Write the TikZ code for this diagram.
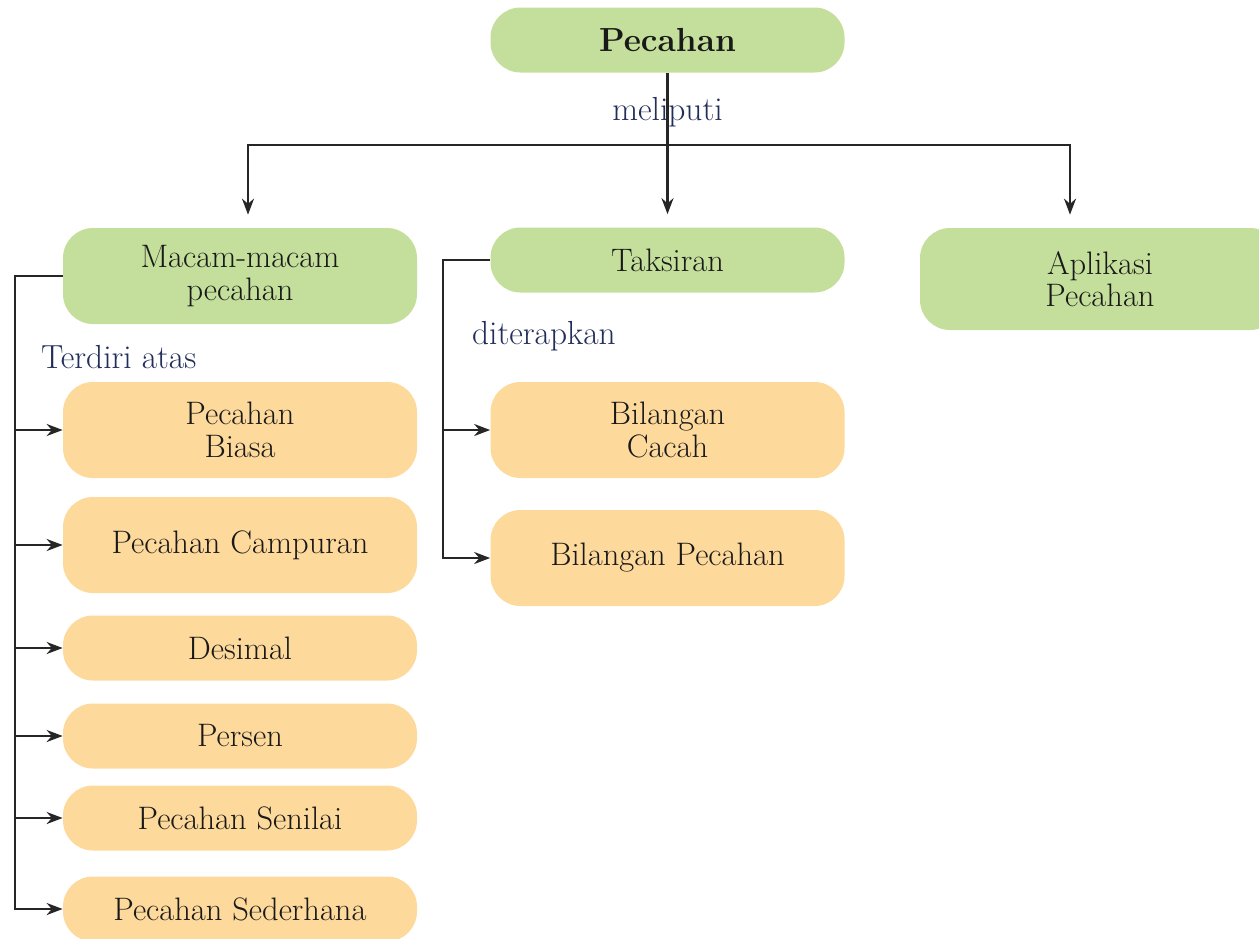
\documentclass[tikz,border=0pt]{standalone}
\usepackage{xcolor}
\usepackage{tikz}
\usetikzlibrary{arrows.meta,positioning,calc}

\definecolor{boxgreen}{RGB}{196,223,155}
\definecolor{boxorange}{RGB}{253,217,155}
\definecolor{labelblue}{RGB}{34,46,90}

\begin{document}
\begin{tikzpicture}[
    topic/.style={rectangle, rounded corners=0.6cm, align=center, text=black!90, inner sep=0pt,
        font=\fontsize{18.5}{18.5}\selectfont, minimum width=7.08cm},
    gnode/.style={topic, fill=boxgreen},
    onode/.style={topic, fill=boxorange},
    tallnode/.style={minimum height=1.92cm},
    flatnode/.style={minimum height=1.30cm},
    lbl/.style={text=labelblue, font=\fontsize{19}{19}\selectfont, inner sep=1pt},
    % Edge styles
    link/.style={black!85, line width=1.4pt},
    arrow/.style={link, -{Stealth[length=3.2mm, width=2.4mm]}},
    ]

    \useasboundingbox (0,0) rectangle (25.18,-18.76);

    % Top level
    \node[gnode, flatnode, font=\fontsize{19}{19}\selectfont\bfseries] (pecahan) at (13.35,-0.80) {Pecahan};

    % Second level
    \node[gnode, tallnode] (macam) at (4.80,-5.52) {Macam-macam\\pecahan};
    \node[gnode, flatnode] (taksiran) at (13.35,-5.20) {Taksiran};
    \node[gnode, tallnode, minimum height=2.04cm, minimum width=7.2cm] (aplikasi) at (22.0,-5.58) {Aplikasi\\Pecahan};

    % Kinds of fractions
    \node[onode, tallnode] (biasa) at (4.80,-8.60) {Pecahan\\Biasa};
    \node[onode, tallnode] (campuran) at (4.80,-10.90) {Pecahan Campuran};
    \node[onode, flatnode] (desimal) at (4.80,-12.96) {Desimal};
    \node[onode, flatnode] (persen) at (4.80,-14.72) {Persen};
    \node[onode, flatnode] (senilai) at (4.80,-16.36) {Pecahan Senilai};
    \node[onode, flatnode] (sederhana) at (4.80,-18.18) {Pecahan Sederhana};

    % Estimation applied to
    \node[onode, tallnode] (cacah) at (13.35,-8.60) {Bilangan\\Cacah};
    \node[onode, tallnode] (bilpecahan) at (13.35,-11.16) {Bilangan Pecahan};

    % Connector labels
    \node[lbl] (meliputi) at (13.35,-2.24) {meliputi};
    \node[lbl, anchor=west] (terdiri) at (0.78,-7.14) {Terdiri atas};
    \node[lbl, anchor=west] (diterapkan) at (9.40,-6.72) {diterapkan};

    % Pecahan to second level
    \coordinate (split) at (13.35,-2.90);
    \coordinate (rail) at (0.30,0);
    \coordinate (trail) at (8.86,0);
    \draw[link] (pecahan.south) -- (split);
    \draw[arrow, shorten >=0.26cm] (split) -| ([xshift=0.16cm]macam.north);
    \draw[arrow, shorten >=0.26cm] (split) -- (taksiran.north);
    \draw[arrow, shorten >=0.26cm] (split) -| ([xshift=-0.6cm]aplikasi.north);

    % Macam-macam pecahan to its kinds
    \draw[arrow] (macam.west) -| (rail |- sederhana) -- (sederhana.west);
    \foreach \kind in {biasa, campuran, desimal, persen, senilai}
        \draw[arrow] (rail |- \kind) -- (\kind.west);

    % Taksiran to its uses
    \draw[arrow] (taksiran.west) -| (trail |- bilpecahan) -- (bilpecahan.west);
    \draw[arrow] (trail |- cacah) -- (cacah.west);

\end{tikzpicture}
\end{document}
